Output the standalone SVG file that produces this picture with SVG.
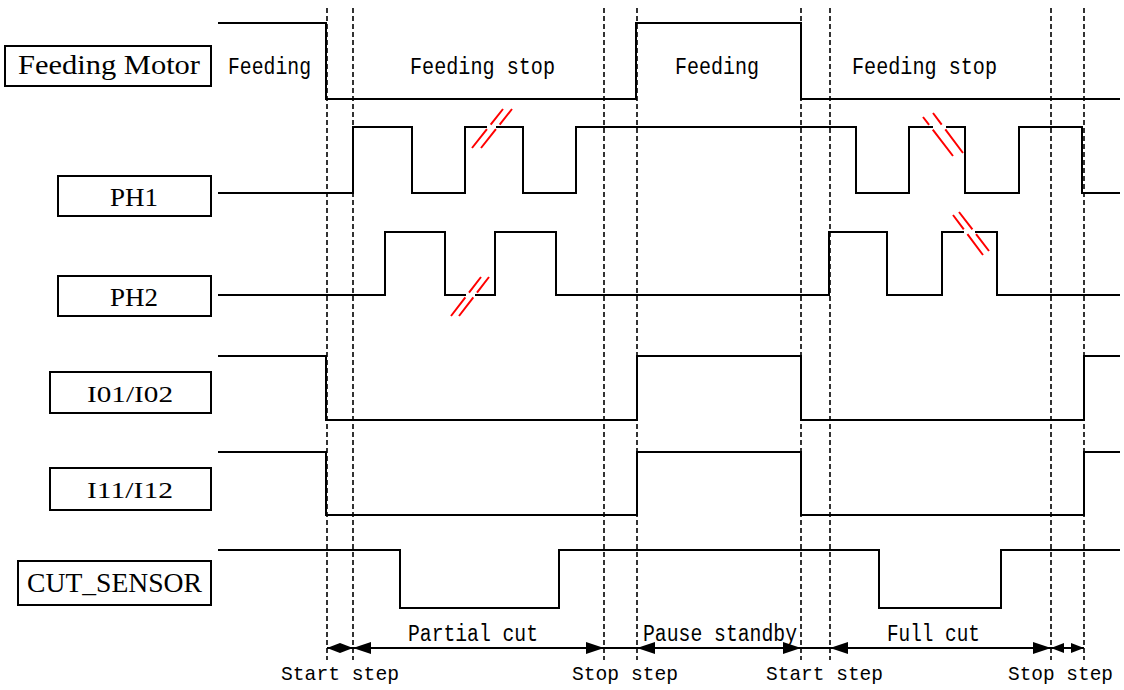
<svg xmlns="http://www.w3.org/2000/svg" width="1124" height="690" viewBox="0 0 1124 690">
<style>
.bg{fill:#fff}
.box{fill:#fff;stroke:#000;stroke-width:2}
.lbl{font-family:"Liberation Serif",serif;fill:#000}
.st{font-family:"Liberation Mono","DejaVu Sans Mono",monospace;font-size:23px;fill:#000}
.sb{font-family:"Liberation Mono","DejaVu Sans Mono",monospace;font-size:21px;fill:#000}
.wave{fill:none;stroke:#000;stroke-width:2}
.guide{stroke:#000;stroke-width:1.6;stroke-dasharray:5 3;fill:none}
.dim{stroke:#000;stroke-width:2;fill:none}
.brk{stroke:#f00;stroke-width:2;fill:none}
.gap{stroke:#fff;stroke-width:4}
</style>
<defs>
<marker id="ah" markerUnits="userSpaceOnUse" markerWidth="18" markerHeight="12" refX="18" refY="6" orient="auto-start-reverse"><path d="M0,0 L18,6 L0,12 z" fill="#000"/></marker>
<marker id="ahs" markerUnits="userSpaceOnUse" markerWidth="13" markerHeight="10" refX="13" refY="5" orient="auto-start-reverse"><path d="M0,0 L13,5 L0,10 z" fill="#000"/></marker>
</defs>
<rect class="bg" width="1124" height="690"/>

<g id="feeding-motor">
<rect class="box" x="5" y="46" width="206" height="40"/>
<text class="lbl" x="18" y="74" font-size="28" textLength="182" lengthAdjust="spacingAndGlyphs">Feeding Motor</text>
<path class="wave" d="M218,23 H326 V99 H636 V23 H801 V99 H1120"/>
<text class="st" x="228" y="74" textLength="83" lengthAdjust="spacingAndGlyphs">Feeding</text>
<text class="st" x="410" y="74" textLength="145" lengthAdjust="spacingAndGlyphs">Feeding stop</text>
<text class="st" x="675" y="74" textLength="84" lengthAdjust="spacingAndGlyphs">Feeding</text>
<text class="st" x="852" y="74" textLength="145" lengthAdjust="spacingAndGlyphs">Feeding stop</text>
</g>

<g id="ph1">
<rect class="box" x="58" y="176" width="153" height="40"/>
<text class="lbl" x="110" y="206" font-size="26" textLength="48" lengthAdjust="spacingAndGlyphs">PH1</text>
<path class="wave" d="M218,193 H353 V127 H412 V193 H465 V127 H523 V193 H576 V127 H856 V193 H909 V127 H965 V193 H1019 V127 H1082 V193 H1120"/>
</g>

<g id="ph2">
<rect class="box" x="58" y="276" width="153" height="40"/>
<text class="lbl" x="110" y="306" font-size="26" textLength="48" lengthAdjust="spacingAndGlyphs">PH2</text>
<path class="wave" d="M218,295 H385 V232 H445 V295 H495 V232 H556 V295 H829 V232 H887 V295 H942 V232 H997 V295 H1120"/>
</g>

<g id="i01-i02">
<rect class="box" x="50" y="372" width="161" height="41"/>
<text class="lbl" x="87" y="402" font-size="23" textLength="86" lengthAdjust="spacingAndGlyphs">I01/I02</text>
<path class="wave" d="M218,356 H326 V420 H637 V356 H801 V420 H1084 V356 H1120"/>
</g>

<g id="i11-i12">
<rect class="box" x="50" y="468" width="161" height="42"/>
<text class="lbl" x="87" y="498" font-size="23" textLength="86" lengthAdjust="spacingAndGlyphs">I11/I12</text>
<path class="wave" d="M218,452 H326 V515 H637 V452 H801 V515 H1084 V452 H1120"/>
</g>

<g id="cut-sensor">
<rect class="box" x="18" y="561" width="193" height="44"/>
<text class="lbl" x="27" y="592" font-size="28" textLength="175" lengthAdjust="spacingAndGlyphs">CUT_SENSOR</text>
<path class="wave" d="M218,550 H400 V608 H559 V550 H879 V608 H1001 V550 H1120"/>
</g>

<g id="break-marks">
<line class="gap" x1="487" y1="127" x2="496" y2="127"/>
<line class="brk" x1="472" y1="148" x2="503" y2="109" stroke-dasharray="24 6 100"/>
<line class="brk" x1="481" y1="148" x2="512" y2="109" stroke-dasharray="24 6 100"/>
<line class="gap" x1="933" y1="127" x2="946" y2="127"/>
<line class="brk" x1="923" y1="117" x2="953" y2="156" stroke-dasharray="10 6 100"/>
<line class="brk" x1="933" y1="113" x2="963" y2="153" stroke-dasharray="14.5 6 100"/>
<line class="gap" x1="466" y1="295" x2="475" y2="295"/>
<line class="brk" x1="451" y1="316" x2="481" y2="277" stroke-dasharray="23.5 6 100"/>
<line class="brk" x1="459" y1="316" x2="489" y2="277" stroke-dasharray="23.5 6 100"/>
<line class="gap" x1="964" y1="232" x2="975" y2="232"/>
<line class="brk" x1="953" y1="215" x2="983" y2="255" stroke-dasharray="18 6 100"/>
<line class="brk" x1="959" y1="212" x2="989" y2="251" stroke-dasharray="22 6 100"/>
</g>

<g id="connectors">
<line class="guide" x1="327" y1="8" x2="327" y2="660"/>
<line class="guide" x1="353" y1="8" x2="353" y2="660"/>
<line class="guide" x1="604" y1="8" x2="604" y2="660"/>
<line class="guide" x1="637" y1="8" x2="637" y2="660"/>
<line class="guide" x1="801" y1="8" x2="801" y2="660"/>
<line class="guide" x1="830" y1="8" x2="830" y2="660"/>
<line class="guide" x1="1051" y1="8" x2="1051" y2="660"/>
<line class="guide" x1="1084" y1="8" x2="1084" y2="660"/>
<line class="dim" x1="327" y1="648" x2="353" y2="648" marker-start="url(#ahs)" marker-end="url(#ahs)"/>
<line class="dim" x1="353" y1="648" x2="604" y2="648" marker-start="url(#ah)" marker-end="url(#ah)"/>
<line class="dim" x1="604" y1="648" x2="637" y2="648"/>
<line class="dim" x1="637" y1="648" x2="801" y2="648" marker-start="url(#ah)" marker-end="url(#ah)"/>
<line class="dim" x1="801" y1="648" x2="830" y2="648"/>
<line class="dim" x1="830" y1="648" x2="1051" y2="648" marker-start="url(#ah)" marker-end="url(#ah)"/>
<line class="dim" x1="1051" y1="648" x2="1084" y2="648" marker-start="url(#ahs)" marker-end="url(#ahs)"/>
<text class="st" x="408" y="641" textLength="130" lengthAdjust="spacingAndGlyphs">Partial cut</text>
<text class="st" x="643" y="641" textLength="154" lengthAdjust="spacingAndGlyphs">Pause standby</text>
<text class="st" x="887" y="641" textLength="93" lengthAdjust="spacingAndGlyphs">Full cut</text>
<text class="sb" x="281" y="680" textLength="118" lengthAdjust="spacingAndGlyphs">Start step</text>
<text class="sb" x="572" y="680" textLength="106" lengthAdjust="spacingAndGlyphs">Stop step</text>
<text class="sb" x="766" y="680" textLength="117" lengthAdjust="spacingAndGlyphs">Start step</text>
<text class="sb" x="1008" y="680" textLength="105" lengthAdjust="spacingAndGlyphs">Stop step</text>
</g>
</svg>
